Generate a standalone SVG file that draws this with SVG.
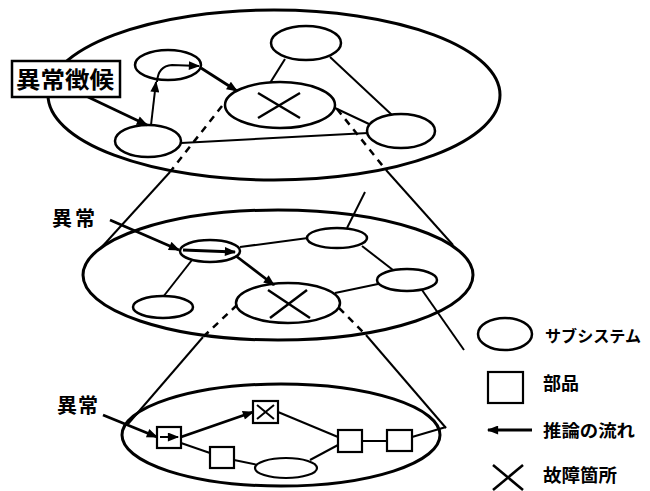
<svg xmlns="http://www.w3.org/2000/svg" width="650" height="491" viewBox="0 0 650 491">
<style>
.layer{fill:none;stroke:#000;stroke-width:3}
.node{fill:#fff;stroke:#000;stroke-width:2.5}
.part{fill:#fff;stroke:#000;stroke-width:2.2}
.ln{fill:none;stroke:#000;stroke-width:2}
.dash{fill:none;stroke:#000;stroke-width:2.5;stroke-dasharray:7,6}
.arr{fill:none;stroke:#000;stroke-width:2.8;marker-end:url(#ah)}
.arr2{fill:none;stroke:#000;stroke-width:2;marker-end:url(#ah)}
.x{fill:none;stroke:#000;stroke-width:2.5}
.t{font-family:"Noto Sans CJK JP","Noto Sans CJK SC",sans-serif;font-weight:bold;fill:#000}
</style>
<defs>
<marker id="ah" viewBox="0 0 10 8" refX="9" refY="4" markerWidth="13" markerHeight="9" markerUnits="userSpaceOnUse" orient="auto">
<path d="M0,0 L10,4 L0,8 z" fill="#000"/>
</marker>
</defs>
<rect width="650" height="491" fill="#fff"/>

<g id="layers">
<ellipse id="layer-top" class="layer" cx="274" cy="95" rx="226" ry="85"/>
<ellipse id="layer-mid" class="layer" cx="278" cy="275" rx="195" ry="65"/>
<ellipse id="layer-bottom" class="layer" cx="281" cy="435" rx="159" ry="51"/>
</g>

<g id="connectors">
<!-- cone top->mid -->
<line class="dash" x1="222" y1="106" x2="170" y2="172"/>
<line class="ln" x1="170" y1="172" x2="100" y2="249"/>
<line class="dash" x1="337" y1="109" x2="386" y2="170"/>
<line class="ln" x1="386" y1="170" x2="453" y2="245"/>
<!-- cone mid->bottom -->
<line class="dash" x1="237" y1="305" x2="203" y2="337"/>
<line class="ln" x1="203" y1="337" x2="128" y2="424"/>
<line class="dash" x1="339" y1="308" x2="366" y2="335"/>
<line class="ln" x1="366" y1="335" x2="446" y2="428"/>
<!-- top layer links -->
<line class="ln" x1="285" y1="59" x2="270" y2="83"/>
<line class="ln" x1="330" y1="57" x2="392" y2="115"/>
<line class="ln" x1="335" y1="108" x2="369" y2="124"/>
<line class="ln" x1="181" y1="143" x2="368" y2="133"/>
<!-- mid layer links -->
<line class="ln" x1="240" y1="247" x2="308" y2="238"/>
<line class="ln" x1="192" y1="260" x2="163" y2="297"/>
<line class="ln" x1="362" y1="246" x2="393" y2="270"/>
<line class="ln" x1="335" y1="293" x2="378" y2="284"/>
<line class="ln" x1="347" y1="228" x2="365" y2="192"/>
<line class="ln" x1="422" y1="290" x2="464" y2="350"/>
<!-- bottom layer links -->
<line class="ln" x1="181" y1="443" x2="210" y2="453"/>
<line class="ln" x1="234" y1="460" x2="258" y2="465"/>
<line class="ln" x1="310" y1="460" x2="338" y2="445"/>
<line class="ln" x1="278" y1="412" x2="338" y2="437"/>
<line class="ln" x1="362" y1="441" x2="387" y2="441"/>
<line class="ln" x1="412" y1="437" x2="446" y2="427"/>
</g>

<g id="nodes-top">
<g id="t-a"><ellipse class="node" cx="168" cy="65" rx="33" ry="15"/></g>
<g id="t-b"><ellipse class="node" cx="148" cy="141" rx="33" ry="16"/></g>
<g id="t-x"><ellipse class="node" cx="280" cy="105" rx="55" ry="23"/>
<line class="x" x1="258" y1="93" x2="300" y2="118"/><line class="x" x1="300" y1="93" x2="258" y2="118"/></g>
<g id="t-c"><ellipse class="node" cx="306" cy="43" rx="35" ry="17"/></g>
<g id="t-d"><ellipse class="node" cx="401" cy="131" rx="34" ry="17"/></g>
</g>

<g id="nodes-mid">
<g id="m-1"><ellipse class="node" cx="210" cy="251" rx="30" ry="11"/></g>
<g id="m-2"><ellipse class="node" cx="163" cy="307" rx="30" ry="11"/></g>
<g id="m-x"><ellipse class="node" cx="288" cy="303" rx="52" ry="20"/>
<line class="x" x1="268" y1="290" x2="310" y2="318"/><line class="x" x1="307" y1="290" x2="270" y2="318"/></g>
<g id="m-4"><ellipse class="node" cx="337" cy="238" rx="30" ry="10"/></g>
<g id="m-5"><ellipse class="node" cx="407" cy="280" rx="30" ry="11"/></g>
</g>

<g id="nodes-bottom">
<g id="b-1"><rect class="part" x="157" y="427" width="24" height="21"/></g>
<g id="b-2"><rect class="part" x="253" y="401" width="25" height="22"/>
<line class="ln" x1="257" y1="405" x2="274" y2="419"/><line class="ln" x1="274" y1="405" x2="257" y2="419"/></g>
<g id="b-3"><rect class="part" x="210" y="447" width="24" height="21"/></g>
<g id="b-e"><ellipse class="part" cx="286" cy="468" rx="31" ry="10"/></g>
<g id="b-4"><rect class="part" x="338" y="430" width="24" height="22"/></g>
<g id="b-5"><rect class="part" x="387" y="430" width="25" height="21"/></g>
</g>

<g id="inference-arrows">
<line class="arr" x1="88" y1="97" x2="147" y2="125"/>
<line class="arr2" x1="151" y1="125" x2="156" y2="82"/>
<path class="arr2" d="M157,82 Q158,66 172,65 L199,66"/>
<line class="arr" x1="201" y1="68" x2="237" y2="91"/>
<line class="arr" x1="110" y1="220" x2="179" y2="250"/>
<line class="arr" x1="183" y1="250" x2="235" y2="252"/>
<line class="arr" x1="236" y1="256" x2="274" y2="285"/>
<line class="arr" x1="103" y1="415" x2="157" y2="437"/>
<line class="arr2" x1="160" y1="437" x2="178" y2="437"/>
<line class="arr" x1="181" y1="437" x2="253" y2="412"/>
</g>

<g id="label-box">
<rect x="12" y="61" width="108" height="36" fill="#fff" stroke="#000" stroke-width="2.5"/>
<text class="t" x="16" y="88" font-size="23" textLength="98" lengthAdjust="spacingAndGlyphs">異常徴候</text>
</g>
<text id="label-mid" class="t" x="52" y="226" font-size="20" letter-spacing="3">異常</text>
<text id="label-bottom" class="t" x="57" y="413" font-size="20" letter-spacing="1">異常</text>

<g id="legend">
<g id="lg-sub"><ellipse class="node" cx="505" cy="334" rx="27" ry="16"/>
<text class="t" x="545" y="342" font-size="16" textLength="96" lengthAdjust="spacingAndGlyphs">サブシステム</text></g>
<g id="lg-part"><rect class="part" x="488" y="372" width="35" height="31"/>
<text class="t" x="543" y="390" font-size="18">部品</text></g>
<g id="lg-flow"><line class="arr" x1="532" y1="430" x2="488" y2="430"/>
<text class="t" x="543" y="437" font-size="17" textLength="92" lengthAdjust="spacingAndGlyphs">推論の流れ</text></g>
<g id="lg-fault"><line class="x" x1="493" y1="465" x2="523" y2="490"/><line class="x" x1="523" y1="465" x2="493" y2="490"/>
<text class="t" x="543" y="482" font-size="18" textLength="74" lengthAdjust="spacingAndGlyphs">故障箇所</text></g>
</g>
</svg>
